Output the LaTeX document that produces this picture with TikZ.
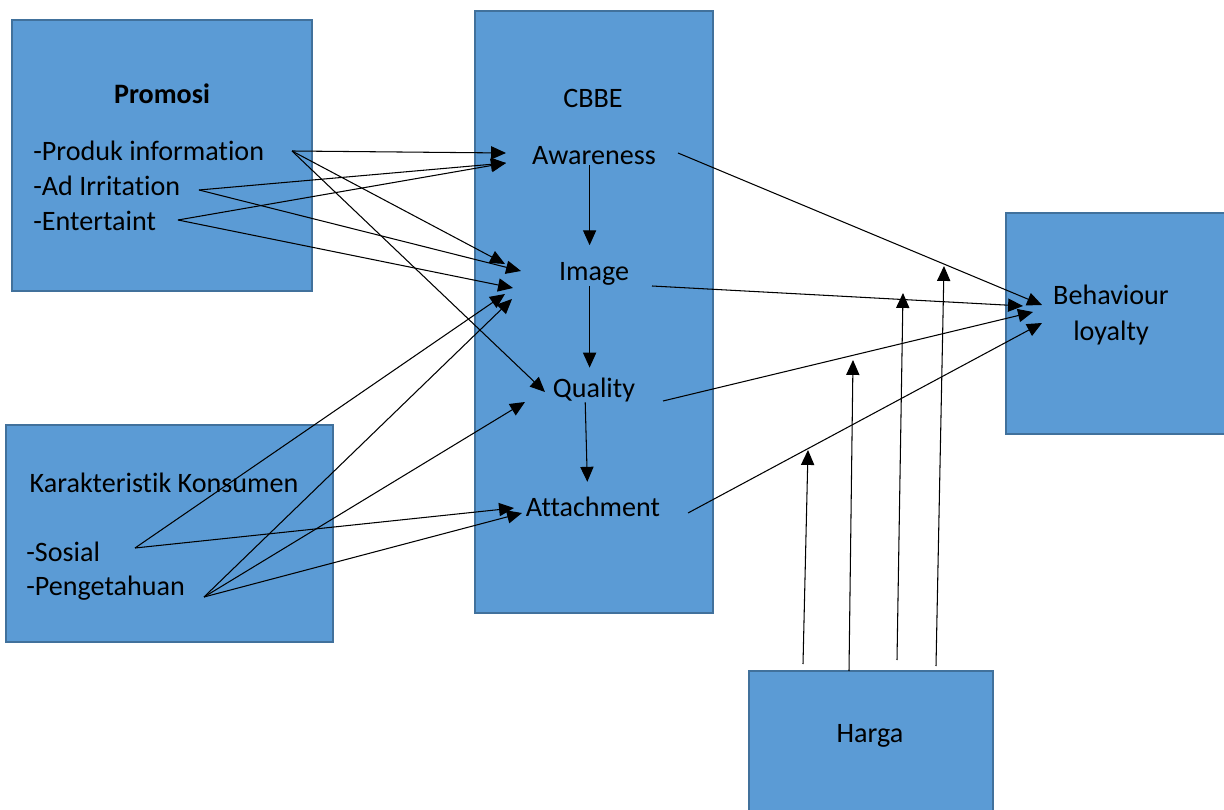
\documentclass[tikz,border=0pt]{standalone}
\usepackage{fontspec}
\setmainfont{Carlito}[RawFeature={-liga;-clig;-calt}]
\usepackage{xcolor}
\usetikzlibrary{arrows.meta, positioning}

\definecolor{boxfill}{HTML}{5B9BD5}
\definecolor{boxline}{HTML}{41719C}

\begin{document}
\begin{tikzpicture}[x=0.02cm, y=-0.02cm,
    block/.style={rectangle, draw=boxline, fill=boxfill, line width=1.1pt, inner sep=0pt},
    txt/.style={font=\fontsize{16}{20}\selectfont, inner sep=0pt, text=black},
    line/.style={draw, line width=0.6pt, -{Triangle[length=8.5pt, width=7.5pt]}}]

    \useasboundingbox (0,0) rectangle (1224,810);

    % Boxes
    \node [block, minimum width=6cm, minimum height=5.42cm] (promosi) at (162,155.5) {};
    \node [block, minimum width=6.54cm, minimum height=4.34cm] (konsumen) at (169.5,533.5) {};
    \node [block, minimum width=4.76cm, minimum height=12.04cm] (cbbe) at (594,312) {};
    \node [block, minimum width=4.48cm, minimum height=4.42cm] (loyalty) at (1118,323.5) {};
    \node [block, minimum width=4.88cm, minimum height=2.88cm] (harga) at (871,743) {};

    % Texts
    \node [txt, font=\fontsize{16}{20}\selectfont\bfseries] (promosi-title) at (162,94) {Promosi};
    \node [txt, anchor=west] (produk) at (33,151) {-Produk information};
    \node [txt, anchor=west] (irritation) at (33,186) {-Ad Irritation};
    \node [txt, anchor=west] (entertaint) at (33,221) {-Entertaint};
    \node [txt] (cbbe-title) at (593,98) {CBBE};
    \node [txt] (aware) at (594,156) {Awareness};
    \node [txt] (image) at (594,274) {Image};
    \node [txt] (quality) at (594,390) {Quality};
    \node [txt] (attach) at (593,507) {Attachment};
    \node [txt] (konsumen-title) at (164,483) {Karakteristik Konsumen};
    \node [txt, anchor=west] (sosial) at (26,552) {-Sosial};
    \node [txt, anchor=west] (pengetahuan) at (26,588) {-Pengetahuan};
    \node [txt, align=center, font=\fontsize{16}{21}\selectfont] (loyalty-title) at (1111,315) {Behaviour\\loyalty};
    \node [txt] (harga-title) at (870,736) {Harga};

    % Arrow ends
    \coordinate (produk-out) at (292,151);
    \coordinate (irritation-out) at (199,190);
    \coordinate (entertaint-out) at (178,220);
    \coordinate (sosial-out) at (135,548);
    \coordinate (pengetahuan-out) at (204,597);
    \coordinate (aware-in1) at (506,153);
    \coordinate (aware-in2) at (506,163);
    \coordinate (image-in1) at (505,264);
    \coordinate (image-in2) at (521,271);
    \coordinate (image-in3) at (513,288);
    \coordinate (image-in4) at (505,294);
    \coordinate (image-in5) at (512,299);
    \coordinate (quality-in1) at (545,392);
    \coordinate (quality-in2) at (525,402);
    \coordinate (attach-in1) at (514,508);
    \coordinate (attach-in2) at (522,513);
    \coordinate (aware-out) at (678,153);
    \coordinate (image-out) at (652,286);
    \coordinate (quality-out) at (663,401);
    \coordinate (attach-out) at (688,513);
    \coordinate (loyalty-in1) at (1042,305);
    \coordinate (loyalty-in2) at (1023,306);
    \coordinate (loyalty-in3) at (1033,312);
    \coordinate (loyalty-in4) at (1042,323);
    \coordinate (harga-out1) at (803,664);
    \coordinate (harga-out2) at (849,671);
    \coordinate (harga-out3) at (897,660);
    \coordinate (harga-out4) at (936,666);
    \coordinate (harga-in1) at (808,450);
    \coordinate (harga-in2) at (853,360);
    \coordinate (harga-in3) at (903,293);
    \coordinate (harga-in4) at (944,266);

    % Promosi -> CBBE
    \path [line] (produk-out) -- (aware-in1);
    \path [line] (produk-out) -- (image-in1);
    \path [line] (produk-out) -- (quality-in1);
    \path [line] (irritation-out) -- (aware-in2);
    \path [line] (irritation-out) -- (image-in2);
    \path [line] (entertaint-out) -- (aware-in2);
    \path [line] (entertaint-out) -- (image-in3);

    % Karakteristik Konsumen -> CBBE
    \path [line] (sosial-out) -- (image-in4);
    \path [line] (sosial-out) -- (attach-in1);
    \path [line] (pengetahuan-out) -- (image-in5);
    \path [line] (pengetahuan-out) -- (quality-in2);
    \path [line] (pengetahuan-out) -- (attach-in2);

    % Inside CBBE
    \path [line, shorten >=0.34cm] ([xshift=-2.5pt]aware.south) -- ([xshift=-2.5pt]image.north);
    \path [line, shorten >=0.2cm] ([xshift=-2.5pt]image.south) -- ([xshift=-2.5pt]quality.north);
    \path [line, shorten >=0.3cm] ([xshift=-5pt]quality.south) -- ([xshift=-3pt]attach.north);

    % CBBE -> Behaviour loyalty
    \path [line] (aware-out) -- (loyalty-in1);
    \path [line] (image-out) -- (loyalty-in2);
    \path [line] (quality-out) -- (loyalty-in3);
    \path [line] (attach-out) -- (loyalty-in4);

    % Harga
    \path [line] (harga-out1) -- (harga-in1);
    \path [line] (harga-out2) -- (harga-in2);
    \path [line] (harga-out3) -- (harga-in3);
    \path [line] (harga-out4) -- (harga-in4);

\end{tikzpicture}
\end{document}
